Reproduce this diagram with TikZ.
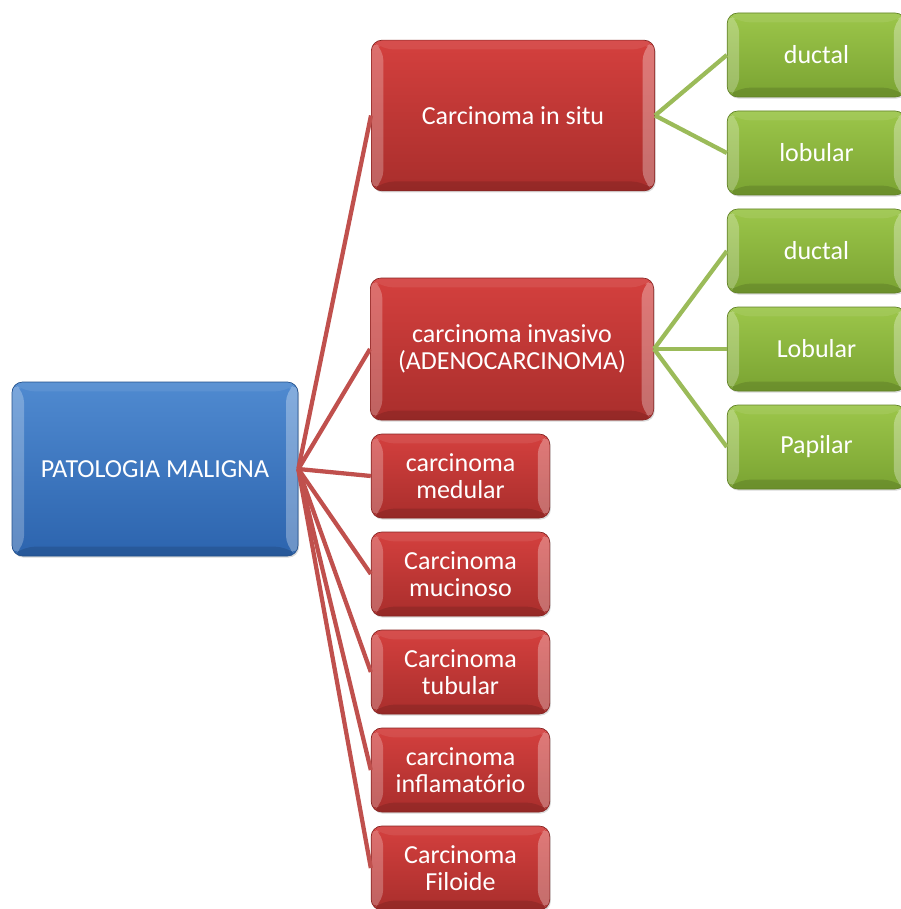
\documentclass[tikz,border=0pt]{standalone}
\usepackage{fontspec}
\setmainfont{Carlito}
\usetikzlibrary{shadows}

\definecolor{rootblue}{HTML}{3C7DCB}
\definecolor{rootbluedark}{HTML}{2C64AE}
\definecolor{boxred}{HTML}{D4403E}
\definecolor{boxreddark}{HTML}{A92E2C}
\definecolor{boxgreen}{HTML}{9CC64A}
\definecolor{boxgreendark}{HTML}{7AA332}
\definecolor{linkred}{HTML}{C0504D}
\definecolor{linkgreen}{HTML}{9BBB59}

\tikzset{
  bevel/.style={path picture={
    \path (path picture bounding box.south west) coordinate (pa)
          (path picture bounding box.north east) coordinate (pb)
          (pa |- pb) coordinate (pc) (pb |- pa) coordinate (pd);
    \fill[white, opacity=0.25] (pa) -- ([shift={(9pt,7pt)}]pa) -- ([shift={(9pt,-7pt)}]pc) -- (pc) -- cycle;
    \fill[white, opacity=0.30] (pb) -- ([shift={(-9pt,-7pt)}]pb) -- ([shift={(-9pt,7pt)}]pd) -- (pd) -- cycle;
    \fill[white, opacity=0.08] (pc) -- ([shift={(9pt,-7pt)}]pc) -- ([shift={(-9pt,-7pt)}]pb) -- (pb) -- cycle;
    \fill[black, opacity=0.12] (pa) -- ([shift={(9pt,7pt)}]pa) -- ([shift={(-9pt,7pt)}]pd) -- (pd) -- cycle;
  }},
  tile/.style={rounded corners=8pt, align=center, text=white, bevel,
    font=\fontsize{19.5}{20.5}\selectfont, line width=0.5pt,
    drop shadow={opacity=0.3, shadow xshift=0.8pt, shadow yshift=-1.2pt}},
  rootbox/.style={tile, draw=rootbluedark!80!black, top color=rootblue!90!white, bottom color=rootbluedark,
    minimum width=214.5pt, minimum height=130.5pt},
  bigred/.style={tile, draw=boxreddark!80!black, top color=boxred, bottom color=boxreddark,
    minimum width=212.5pt, minimum height=110pt},
  smallred/.style={tile, draw=boxreddark!80!black, top color=boxred, bottom color=boxreddark,
    minimum width=134pt, minimum height=63pt},
  leaf/.style={tile, draw=boxgreendark!80!black, top color=boxgreen, bottom color=boxgreendark,
    minimum width=134pt, minimum height=63pt},
  redlink/.style={draw=linkred, line width=3.2pt},
  greenlink/.style={draw=linkgreen, line width=3.2pt}
}

\begin{document}
\begin{tikzpicture}[x=0.75pt, y=-0.75pt]
  \useasboundingbox (0,0) rectangle (900,909);

  % States
  \node[rootbox] (patologia) at (155,469) {PATOLOGIA MALIGNA};

  \node[bigred, minimum height=113pt] (situ) at (513,115.5) {Carcinoma in situ};
  \node[bigred, minimum height=106.5pt] (invasivo) at (512,349) {carcinoma invasivo\\(ADENOCARCINOMA)};

  \node[smallred] (medular) at (460.5,476) {carcinoma\\medular};
  \node[smallred] (mucinoso) at (460.5,574) {Carcinoma\\mucinoso};
  \node[smallred] (tubular) at (460.5,672) {Carcinoma\\tubular};
  \node[smallred] (inflam) at (460.5,770) {carcinoma\\inflamatório};
  \node[smallred] (filoide) at (460.5,868) {Carcinoma\\Filoide};

  \node[leaf] (situductal) at (816.5,55) {ductal};
  \node[leaf] (situlobular) at (816.5,153) {lobular};
  \node[leaf] (invductal) at (816.5,251) {ductal};
  \node[leaf] (invlobular) at (816.5,349) {Lobular};
  \node[leaf] (invpapilar) at (816.5,447) {Papilar};

  % Edges
  \foreach \dest in {situ, invasivo, medular, mucinoso, tubular, inflam, filoide}
    \draw[redlink] (patologia.east) -- (\dest.west);
  \draw[greenlink] (situ.east) -- (situductal.west);
  \draw[greenlink] (situ.east) -- (situlobular.west);
  \draw[greenlink] (invasivo.east) -- (invductal.west);
  \draw[greenlink] (invasivo.east) -- (invlobular.west);
  \draw[greenlink] (invasivo.east) -- (invpapilar.west);
\end{tikzpicture}
\end{document}
